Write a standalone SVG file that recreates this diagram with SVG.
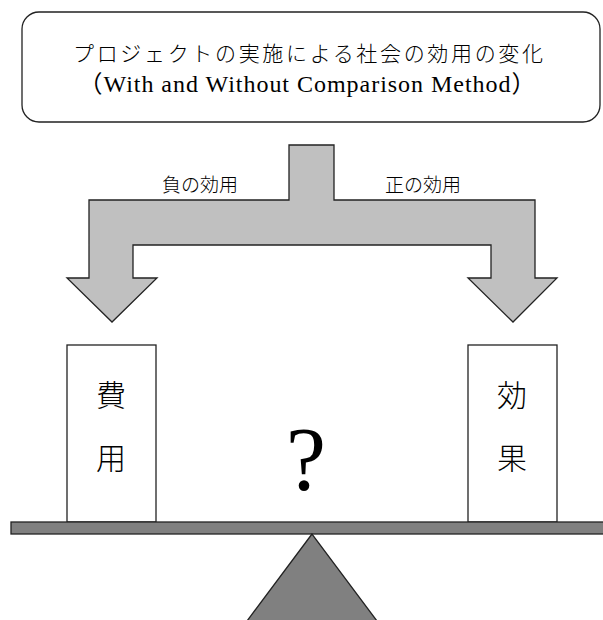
<svg xmlns="http://www.w3.org/2000/svg" width="603" height="620" viewBox="0 0 603 620">
<style>
.t{font-family:"Liberation Serif","Noto Sans CJK JP",serif;fill:#000}
.j{font-family:"Noto Sans CJK JP",sans-serif;fill:#000}
.ln{stroke:#222;stroke-width:1.3}
</style>
<rect width="603" height="620" fill="#fff"/>
<g id="title">
<rect x="22" y="12" width="578" height="110" rx="17" fill="#fff" class="ln"/>
<text class="j" x="308" y="61" font-size="21" text-anchor="middle" textLength="470" font-weight="300">プロジェクトの実施による社会の効用の変化</text>
<text class="t" x="307" y="92" font-size="24" text-anchor="middle" textLength="457">（With and Without Comparison Method）</text>
</g>
<g id="connectors">
<path d="M289,145 H334 V200 H535 V278 H557 L513,322 L468,278 H491 V245 H133 V278 H157 L112,322 L67,278 H89 V200 H289 Z" fill="#c0c0c0" class="ln"/>
<text class="j" x="200" y="192" font-size="19" text-anchor="middle" font-weight="300">負の効用</text>
<text class="j" x="423" y="192" font-size="19" text-anchor="middle" font-weight="300">正の効用</text>
</g>
<g id="cost">
<rect x="67" y="345" width="89" height="177" fill="#fff" class="ln"/>
<text class="j" x="111" y="406" font-size="30" text-anchor="middle" font-weight="300">費</text>
<text class="j" x="111" y="469" font-size="30" text-anchor="middle" font-weight="300">用</text>
</g>
<g id="benefit">
<rect x="468" y="345" width="89" height="177" fill="#fff" class="ln"/>
<text class="j" x="512" y="406" font-size="30" text-anchor="middle" font-weight="300">効</text>
<text class="j" x="512" y="469" font-size="30" text-anchor="middle" font-weight="300">果</text>
</g>
<g id="question">
<text class="t" x="306" y="490" font-size="90" text-anchor="middle">?</text>
</g>
<g id="balance">
<rect x="11" y="522" width="600" height="12" fill="#808080" class="ln"/>
<path d="M312,534 L247,621 H377 Z" fill="#808080" class="ln"/>
</g>
</svg>
